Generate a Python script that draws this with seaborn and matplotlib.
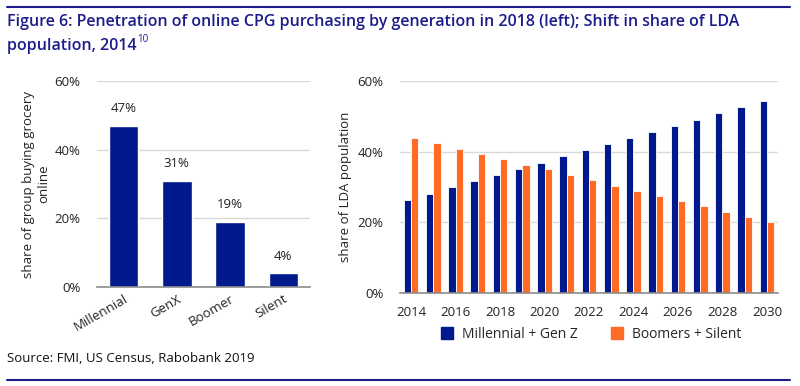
# Online CPG purchasing by generation + LDA population shift
import pandas as pd
import matplotlib
matplotlib.use("Agg")
import matplotlib.pyplot as plt
import seaborn as sns
from matplotlib.lines import Line2D
from matplotlib.ticker import PercentFormatter

# data
generations = ["Millennial", "GenX", "Boomer", "Silent"]
online_share = [47, 31, 19, 4]

years = list(range(2014, 2031))
millennial_genz = [26.2, 28.0, 30.0, 31.7, 33.4, 35.2, 36.9, 38.7, 40.5,
                   42.2, 44.0, 45.7, 47.3, 49.1, 50.9, 52.6, 54.3]
boomers_silent = [44.0, 42.4, 40.8, 39.3, 37.9, 36.3, 35.0, 33.5, 31.9,
                  30.4, 29.0, 27.5, 26.1, 24.5, 23.0, 21.5, 20.0]
series_names = ["Millennial + Gen Z", "Boomers + Silent"]

BLUE = "#001a8e"
ORANGE = "#ff6a24"
TITLE_COL = "#1c1c8a"
GRID = "#d9d9d9"

sns.set_style("white")
plt.rcParams["font.family"] = ["Open Sans", "DejaVu Sans"]

fig = plt.figure(figsize=(8, 3.86), dpi=100)
W, H = 800, 386

def box(x0, y0, x1, y1):
    return [x0 / W, 1 - y1 / H, (x1 - x0) / W, (y1 - y0) / H]

ax1 = fig.add_axes(box(97, 81, 310, 287))
ax2 = fig.add_axes(box(400, 81, 778, 293))

# left chart
left_df = pd.DataFrame({"gen": generations, "share": online_share})
sns.barplot(data=left_df, x="gen", y="share", color=BLUE, width=0.55,
            saturation=1, ax=ax1)
for i, v in enumerate(online_share):
    ax1.text(i, v + 3, f"{v}%", ha="center", va="bottom", fontsize=9.5, color="#222222")
ax1.set_ylabel("share of group buying grocery\nonline", fontsize=9.5, color="#222222",
               labelpad=3)
ax1.set_xlabel("")
plt.setp(ax1.get_xticklabels(), rotation=30, ha="right", rotation_mode="anchor",
         fontsize=9.5)

# right chart
right_df = pd.DataFrame({
    "year": years * 2,
    "share": millennial_genz + boomers_silent,
    "series": [series_names[0]] * len(years) + [series_names[1]] * len(years),
})
sns.barplot(data=right_df, x="year", y="share", hue="series",
            palette=[BLUE, ORANGE], width=0.66, saturation=1, gap=0.0, ax=ax2,
            legend=False)
ax2.set_ylabel("share of LDA population", fontsize=9.5, color="#222222", labelpad=4)
ax2.set_xlabel("")
ax2.set_xticks(range(0, len(years), 2))
ax2.set_xticklabels([str(y) for y in years[::2]], fontsize=9.5)

for ax in (ax1, ax2):
    ax.set_ylim(0, 60)
    ax.set_yticks([0, 20, 40, 60])
    ax.yaxis.set_major_formatter(PercentFormatter(decimals=0))
    ax.tick_params(axis="y", labelsize=9.5, length=0, pad=12, colors="#222222")
    ax.tick_params(axis="x", length=0, colors="#222222")
    ax.grid(axis="y", color=GRID, lw=1)
    ax.set_axisbelow(True)
    for s in ("top", "right", "left"):
        ax.spines[s].set_visible(False)
    ax.spines["bottom"].set_color("#8c8c8c")
    ax.spines["bottom"].set_linewidth(1.2)
ax1.tick_params(axis="x", pad=4)
ax2.tick_params(axis="x", pad=9)
# thin white edge between adjacent bars, like the original
for p in ax2.patches:
    p.set_edgecolor("white")
    p.set_linewidth(0.6)

handles = [Line2D([], [], marker="s", ls="", color=c, markersize=8) for c in (BLUE, ORANGE)]
fig.legend(handles, series_names, loc="center", bbox_to_anchor=(587 / W, 1 - 334 / H),
           ncol=2, frameon=False, fontsize=10, handletextpad=0.1, columnspacing=1.8)

# title, source, rules
fig.add_artist(Line2D([7 / W, 790 / W], [1 - 7 / H] * 2, color=TITLE_COL, lw=1.5))
fig.add_artist(Line2D([7 / W, 790 / W], [1 - 380 / H] * 2, color=TITLE_COL, lw=1.5))
fig.text(7 / W, 1 - 22 / H,
         "Figure 6: Penetration of online CPG purchasing by generation in 2018 (left); Shift in share of LDA",
         fontsize=11.5, color=TITLE_COL, va="center", fontweight="semibold")
t2 = fig.text(7 / W, 1 - 46 / H, "population, 2014", fontsize=11.5, color=TITLE_COL,
              va="center", fontweight="semibold")
fig.canvas.draw()
bb = t2.get_window_extent()
fig.text((bb.x1 + 1) / W, 1 - 40 / H, "10", fontsize=7, color=TITLE_COL, va="center")
fig.text(7 / W, 1 - 358 / H, "Source: FMI, US Census, Rabobank 2019", fontsize=9.5,
         color="#111111", va="center")

fig.savefig("out.png", dpi=100)
